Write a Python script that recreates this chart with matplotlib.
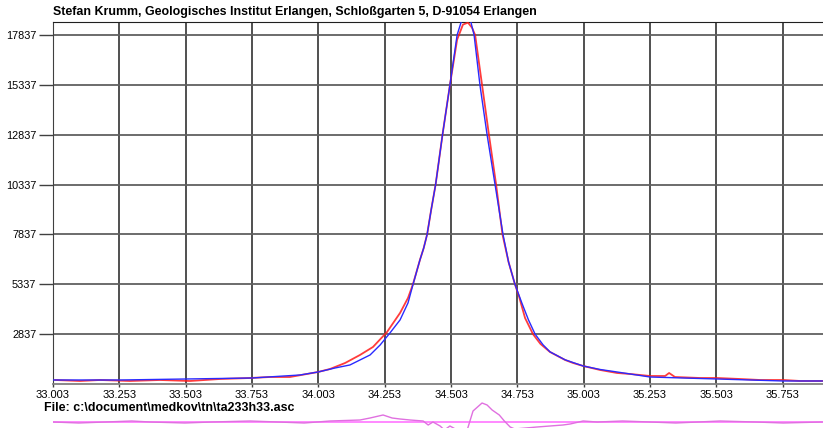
import matplotlib
matplotlib.use("Agg")
from matplotlib import pyplot as plt
import numpy as np

# observed profile (red)
obs_x = [33.011, 33.105, 33.180, 33.293, 33.406, 33.519, 33.632, 33.746, 33.821, 33.896,
         34.002, 34.047, 34.104, 34.160, 34.209, 34.262, 34.311, 34.341, 34.360, 34.386,
         34.400, 34.413, 34.428, 34.445, 34.471, 34.499, 34.526, 34.548, 34.567, 34.582,
         34.594, 34.620, 34.646, 34.673, 34.697, 34.720, 34.744, 34.760, 34.782, 34.812,
         34.840, 34.876, 34.933, 34.963, 35.001, 35.065, 35.129, 35.178, 35.253, 35.310,
         35.325, 35.347, 35.442, 35.506, 35.592, 35.668, 35.755, 35.819, 35.902]
obs_y = [538, 488, 538, 488, 538, 488, 588, 638, 688, 688,
         939, 1090, 1391, 1793, 2194, 2947, 3901, 4654, 5357, 6562,
         7150, 7837, 9050, 10337, 12837, 15337, 17600, 18359, 18459, 18208,
         17837, 15337, 12837, 10337, 7837, 6450, 5337, 4700, 3650, 2837,
         2350, 1943, 1542, 1391, 1241, 1040, 889, 839, 739, 739,
         889, 688, 638, 638, 588, 538, 538, 488, 488]

# fitted profile (blue)
fit_x = [33.003, 33.256, 33.504, 33.753, 33.934, 34.002, 34.066, 34.122, 34.198, 34.236,
         34.273, 34.311, 34.341, 34.360, 34.386, 34.400, 34.413, 34.428, 34.445, 34.471,
         34.499, 34.526, 34.545, 34.560, 34.575, 34.590, 34.612, 34.639, 34.669, 34.699,
         34.720, 34.744, 34.770, 34.795, 34.820, 34.850, 34.876, 34.933, 35.001, 35.065,
         35.129, 35.253, 35.377, 35.506, 35.755, 35.902]
fit_y = [538, 538, 588, 638, 789, 939, 1140, 1291, 1793, 2295,
         2897, 3550, 4403, 5337, 6562, 7150, 7837, 9050, 10337, 12837,
         15337, 17837, 18650, 18900, 18650, 17837, 15337, 12837, 10337, 7837,
         6450, 5337, 4400, 3550, 2837, 2300, 1950, 1550, 1241, 1065,
         939, 688, 638, 588, 488, 488]

# difference observed - fit
res_x = [33.003, 33.100, 33.200, 33.300, 33.369, 33.500, 33.600, 33.746, 33.850, 33.950,
         34.047, 34.160, 34.198, 34.247, 34.281, 34.311, 34.349, 34.398, 34.417, 34.435,
         34.462, 34.478, 34.499, 34.526, 34.564, 34.586, 34.620, 34.639, 34.658, 34.685,
         34.704, 34.726, 34.752, 34.801, 34.827, 34.876, 34.925, 34.952, 35.001, 35.054,
         35.150, 35.253, 35.350, 35.517, 35.650, 35.755, 35.902]
res_y = [0, -60, 0, 60, 0, -60, 0, 60, 0, -60,
         60, 120, 240, 420, 240, 180, 120, 60, -180, 0,
         -240, -480, -240, -480, -480, 660, 1140, 1020, 720, 420,
         60, -300, -480, -420, -300, -240, -180, -120, 60, 0,
         60, 0, -60, 60, 0, -60, 0]

xticks = [33.003, 33.253, 33.503, 33.753, 34.003, 34.253, 34.503, 34.753,
          35.003, 35.253, 35.503, 35.753]
yticks = [2837, 5337, 7837, 10337, 12837, 15337, 17837]

plt.rcParams['font.family'] = ['Liberation Sans', 'DejaVu Sans']

fig = plt.figure(figsize=(8.23, 4.28), dpi=100)
ax = fig.add_axes([53 / 823, 44 / 428, 770 / 823, 362 / 428])

for xt in xticks:
    ax.axvline(xt, color='#202020', lw=1.1, zorder=1)
for yt in yticks:
    ax.axhline(yt, color='#606060', lw=1.3, zorder=1)

ax.plot(obs_x, obs_y, color='#ff1a1a', lw=1.3, alpha=0.85, zorder=3)
ax.plot(fit_x, fit_y, color='#2a2aff', lw=1.0, zorder=4)

ax.set_xlim(33.003, 35.905)
ax.set_ylim(337, 18490)
ax.set_xticks(xticks)
ax.set_xticklabels(['%.3f' % v for v in xticks], fontsize=8)
ax.set_yticks(yticks)
ax.set_yticklabels([str(v) for v in yticks], fontsize=7.8)
ax.tick_params(axis='y', length=10, width=1, color='#404040', pad=2)
ax.tick_params(axis='x', length=2, width=1, color='#404040', pad=2)
ax.spines['right'].set_visible(False)
ax.spines['top'].set_color('#202020')
ax.spines['left'].set_color('#404040')
ax.spines['bottom'].set_color('#808080')
ax.spines['bottom'].set_linewidth(1.3)

fig.text(53 / 823, 1 - 12 / 428, 'Stefan Krumm, Geologisches Institut Erlangen, Schloßgarten 5, D-91054 Erlangen',
         fontsize=8.9, fontweight='bold', va='center', ha='left')
fig.text(44 / 823, 1 - 408 / 428, 'File: c:\\document\\medkov\\tn\\ta233h33.asc',
         fontsize=8.9, fontweight='bold', va='center', ha='left')

# residual strip
rax = fig.add_axes([53 / 823, 0, 770 / 823, 30 / 428])
rax.axhline(0, color='#ff80ff', lw=1.3, zorder=1)
rax.plot(res_x, res_y, color='#e070e0', lw=1.0, zorder=2)
rax.set_xlim(33.003, 35.905)
rax.set_ylim(-360, 1440)
rax.axis('off')

fig.savefig('out.png', dpi=100)
